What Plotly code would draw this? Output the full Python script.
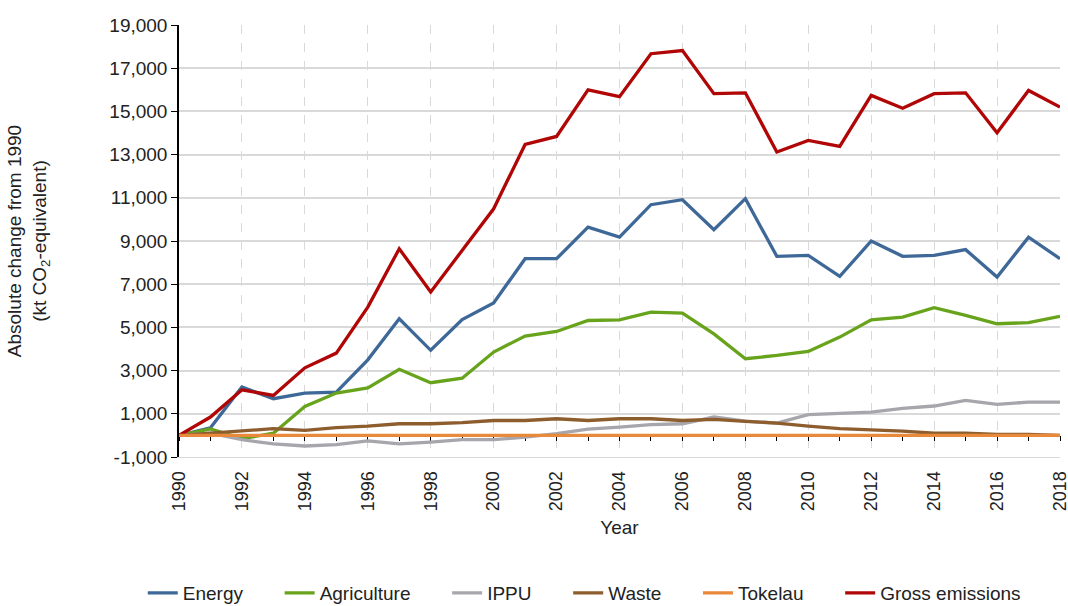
import plotly.graph_objects as go

years = list(range(1990, 2019))

energy = [0, 350, 2240, 1700, 1960, 2000, 3500, 5400, 3940, 5360, 6130,
          8180, 8180, 9640, 9180, 10680, 10910, 9520, 10960, 8290, 8330,
          7360, 9000, 8290, 8330, 8600, 7330, 9180, 8180]
agriculture = [0, 300, -150, 100, 1340, 1960, 2200, 3060, 2440, 2650, 3860,
               4600, 4810, 5320, 5350, 5710, 5660, 4700, 3550, 3700, 3890,
               4550, 5350, 5480, 5910, 5560, 5170, 5220, 5510]
ippu = [0, 100, -200, -390, -490, -430, -250, -390, -310, -200, -200,
        -80, 80, 290, 380, 500, 540, 850, 660, 570, 960,
        1030, 1080, 1250, 1360, 1620, 1440, 1540, 1540]
waste = [0, 100, 230, 310, 230, 360, 430, 540, 540, 590, 690,
         690, 770, 690, 770, 770, 690, 740, 650, 570, 430,
         310, 260, 200, 100, 100, 50, 50, 0]
tokelau = [0] * len(years)
gross = [0, 850, 2110, 1850, 3130, 3810, 5940, 8640, 6640, 8560, 10490,
         13470, 13840, 16000, 15680, 17670, 17820, 15820, 15860, 13120, 13660,
         13380, 15740, 15150, 15820, 15860, 14010, 15970, 15200]

x_ticks = list(range(1990, 2019, 2))
y_ticks = list(range(-1000, 19001, 2000))
y_tick_labels = ["-1,000", "1,000", "3,000", "5,000", "7,000", "9,000",
                 "11,000", "13,000", "15,000", "17,000", "19,000"]

series = [
    ("Energy", energy, "#3e6898"),
    ("Agriculture", agriculture, "#68a31c"),
    ("IPPU", ippu, "#a6a6ac"),
    ("Waste", waste, "#8d5d2e"),
    ("Tokelau", tokelau, "#e8893b"),
    ("Gross emissions", gross, "#b00606"),
]

font = "Liberation Sans, Arial, sans-serif"
pad = "\u00a0" * 6

fig = go.Figure()
for i, (name, vals, col) in enumerate(series):
    fig.add_trace(go.Scatter(
        x=years, y=vals, mode="lines",
        name=name + (pad if i < len(series) - 1 else ""),
        line=dict(color=col, width=3.3),
        xaxis="x2" if name == "Tokelau" else "x",
    ))

fig.update_layout(
    width=1068, height=606,
    margin=dict(l=179, r=8, t=25, b=149, autoexpand=False),
    plot_bgcolor="white", paper_bgcolor="white",
    font=dict(family=font, size=19, color="#222222"),
    showlegend=True,
    legend=dict(orientation="h", x=0.46, xanchor="center", y=-0.315, yanchor="middle",
                font=dict(size=19), itemwidth=30),
    xaxis=dict(
        range=[1990, 2018], tickvals=x_ticks, tickangle=-90,
        showgrid=True, gridcolor="#d9d9d9", griddash="dash", gridwidth=1,
        showline=True, linecolor="#d9d9d9", ticks="", zeroline=False,
        title=dict(text="Year", font=dict(size=19), standoff=10),
        tickfont=dict(size=18),
        ticklabelstandoff=6, ticklabeloverflow="allow", automargin=False,
    ),
    xaxis2=dict(
        range=[1990, 2018], tick0=1990, dtick=1, overlaying="x",
        anchor="free", position=0.05, showgrid=False, showticklabels=False,
        showline=True, linecolor="black", linewidth=1.5, layer="below traces",
        ticks="outside", ticklen=5, tickcolor="black", zeroline=False,
        automargin=False,
    ),
    yaxis=dict(
        range=[-1000, 19000], tickvals=y_ticks, ticktext=y_tick_labels,
        showgrid=True, gridcolor="#d9d9d9", gridwidth=1.5,
        showline=True, linecolor="black", linewidth=1.5,
        ticks="outside", ticklen=6, tickcolor="black", zeroline=False,
        title=dict(text="Absolute change from 1990<br>(kt CO<sub>2</sub>-equivalent)",
                   font=dict(size=19), standoff=58),
        automargin=False,
    ),
)

# drop the default body margin so the figure fills the window exactly
fig.write_html("out.html", config={"displayModeBar": False},
               post_script="document.body.style.margin='0';document.body.style.overflow='hidden';")
